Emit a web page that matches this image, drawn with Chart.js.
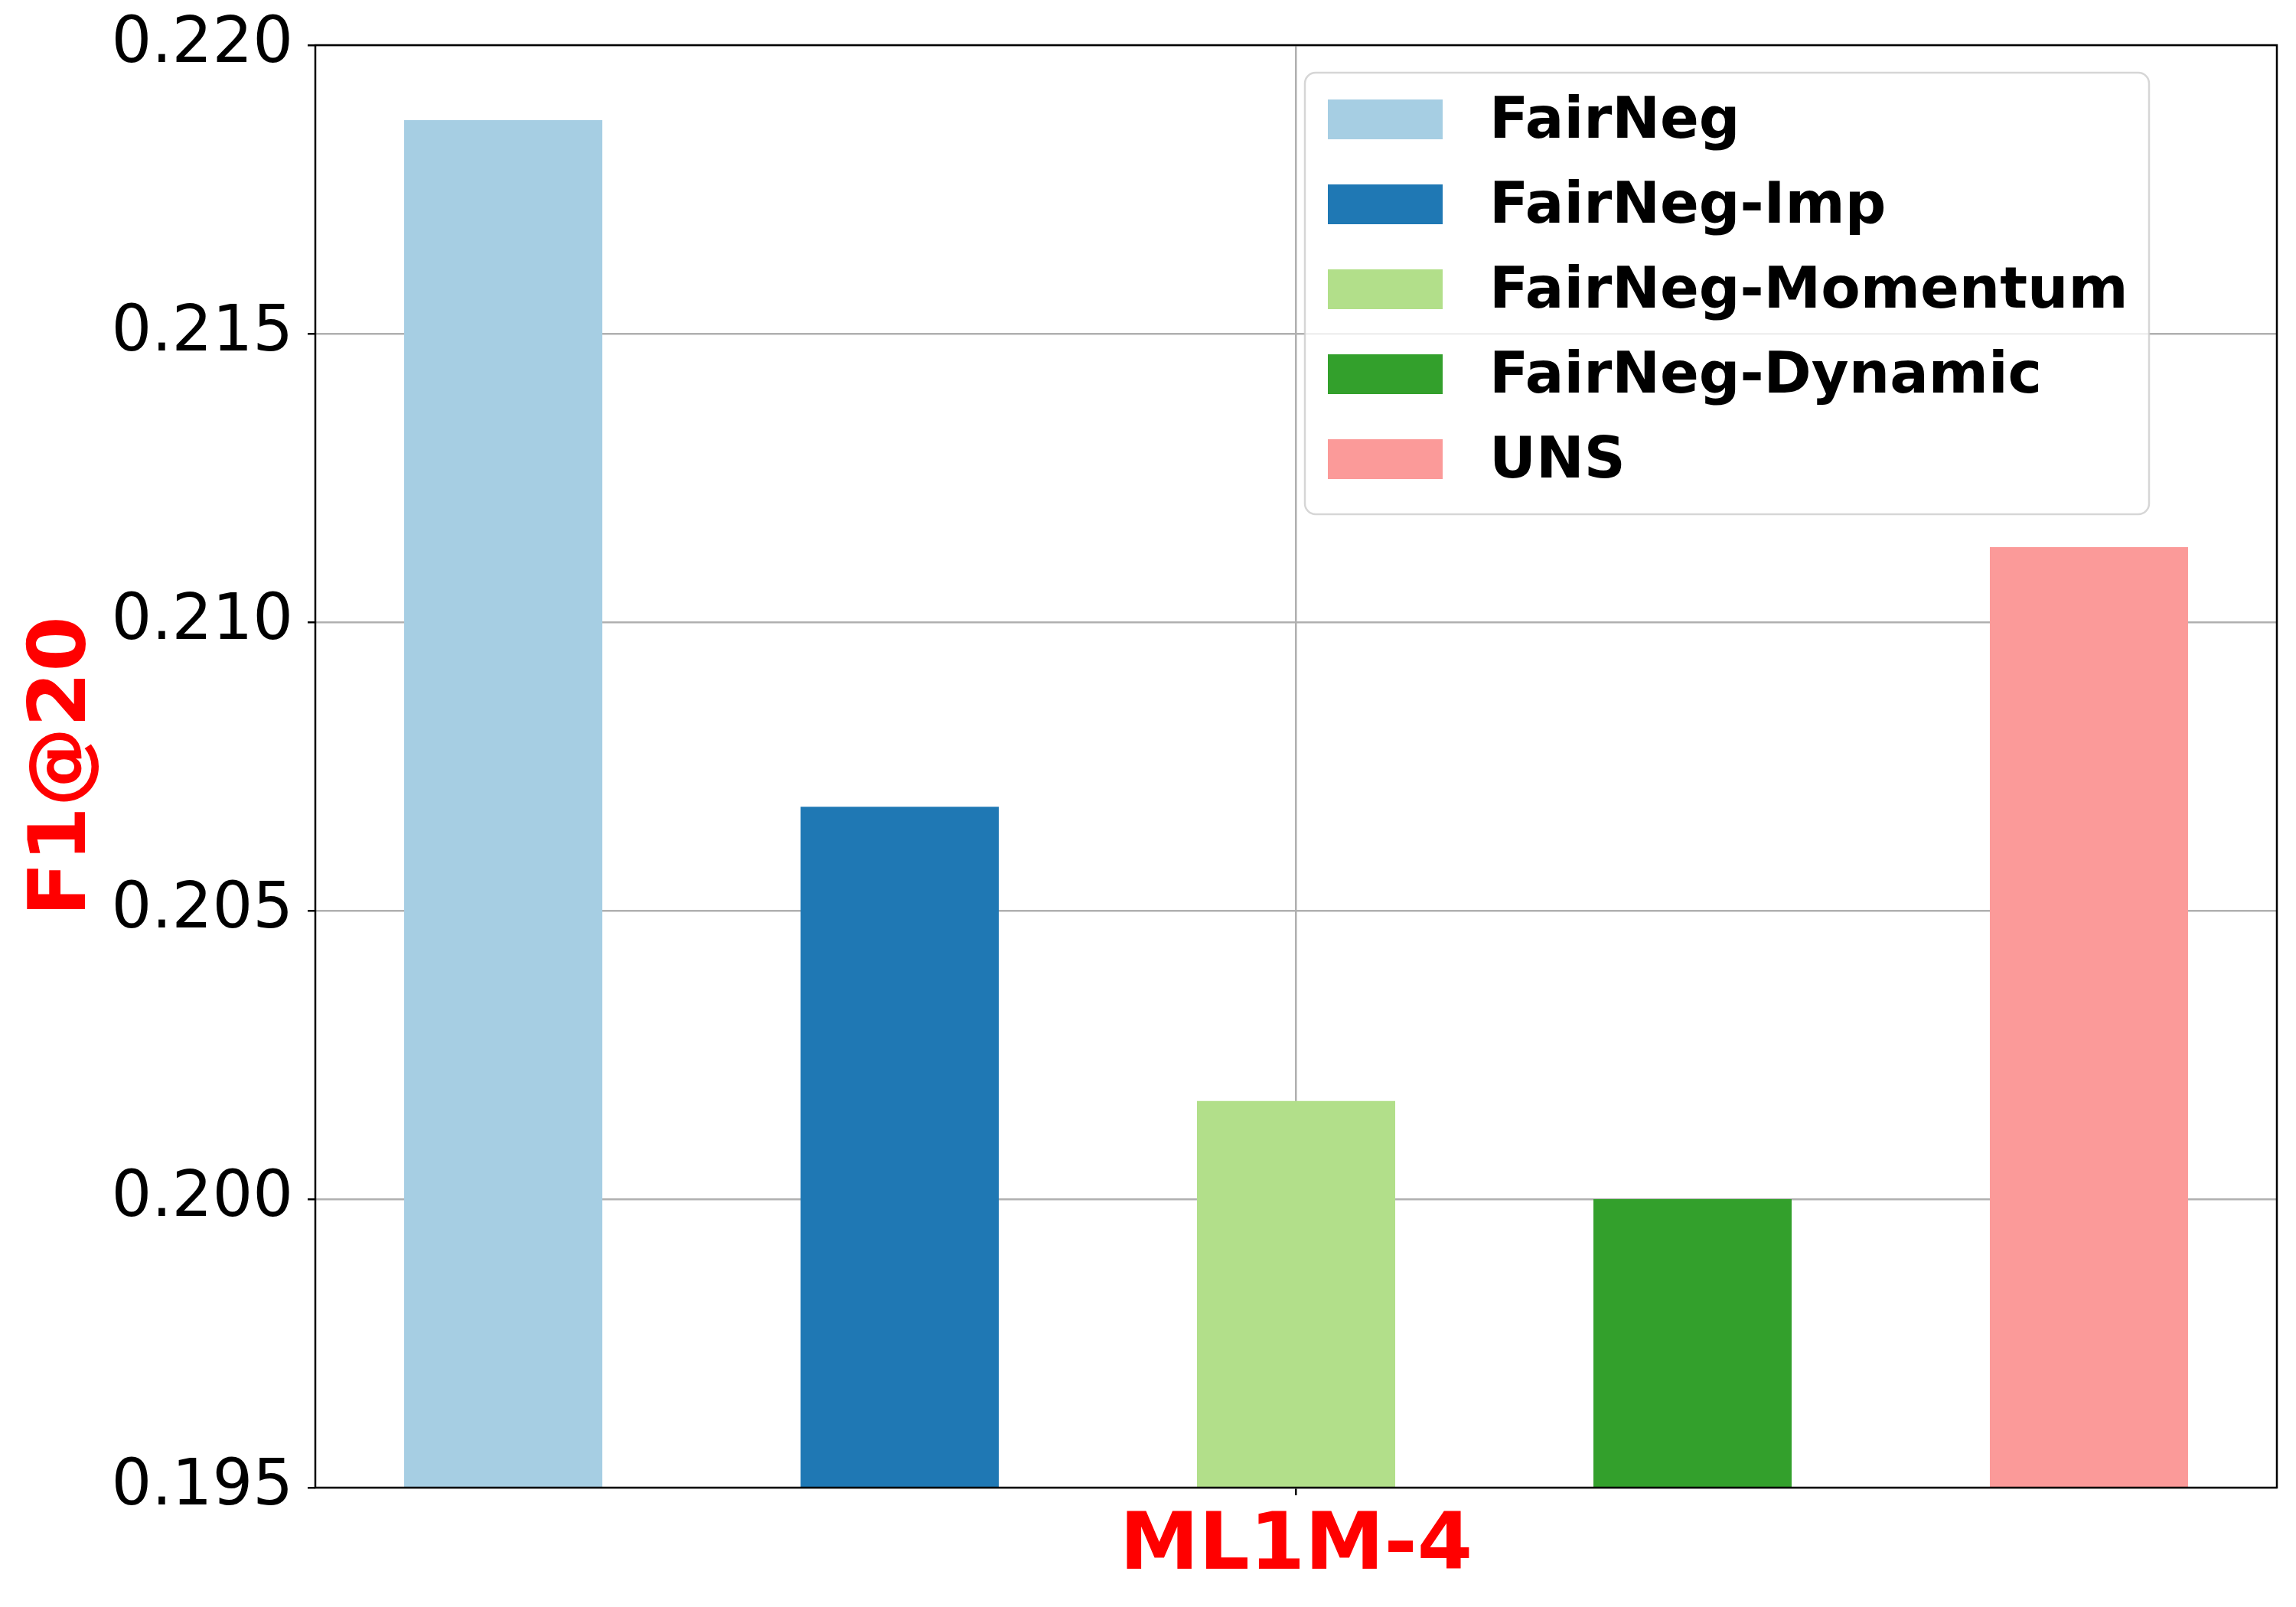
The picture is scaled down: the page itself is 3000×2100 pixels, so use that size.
<!DOCTYPE html>
<html>
<head>
<meta charset="utf-8">
<script src="https://cdn.jsdelivr.net/npm/chart.js@4.4.1/dist/chart.umd.min.js"></script>
<style>
  html, body { margin: 0; padding: 0; background: #fff; }
  canvas { display: block; }
</style>
</head>
<body>
<canvas id="f1-bar" width="3000" height="2100"></canvas>
<script>
const categories = ['ML1M-4'];
const methods = ['FairNeg', 'FairNeg-Imp', 'FairNeg-Momentum', 'FairNeg-Dynamic', 'UNS'];
const f1Values = [0.2187, 0.2068, 0.2017, 0.2000, 0.2113];
const barColors = ['#a6cee3', '#1f78b4', '#b2df8a', '#33a02c', '#fb9a99'];

const FONT = '"DejaVu Sans", sans-serif';

// black frame round the plot area, like matplotlib spines
const frame = {
    id: 'frame',
    afterDraw(chart) {
        const a = chart.chartArea;
        const ctx = chart.ctx;
        ctx.save();
        ctx.strokeStyle = '#000';
        ctx.lineWidth = 2.5;
        ctx.strokeRect(a.left, a.top, a.right - a.left, a.bottom - a.top);
        ctx.restore();
    }
};

// legend box in the upper right of the plot
const boxLegend = {
    id: 'boxLegend',
    afterDraw(chart) {
        const ctx = chart.ctx;
        ctx.save();
        ctx.beginPath();
        ctx.roundRect(1705, 95, 1103, 577, 14);
        ctx.fillStyle = 'rgba(255,255,255,0.8)';
        ctx.fill();
        ctx.lineWidth = 2.5;
        ctx.strokeStyle = 'rgba(204,204,204,0.8)';
        ctx.stroke();
        ctx.font = 'bold 75px ' + FONT;
        ctx.textBaseline = 'middle';
        chart.data.datasets.forEach((ds, i) => {
            const cy = 156 + i * 111;
            ctx.fillStyle = ds.backgroundColor;
            ctx.fillRect(1735, cy - 26, 150, 52);
            ctx.fillStyle = '#000';
            ctx.fillText(ds.label, 1946, cy + 5);
        });
        ctx.restore();
    }
};

const datasets = methods.map((m, i) => ({
    label: m,
    data: [f1Values[i]],
    backgroundColor: barColors[i],
    borderWidth: 0,
    categoryPercentage: 1.0105,
    barPercentage: 0.5
}));

const ctx = document.getElementById('f1-bar');
const myChart = new Chart(ctx, {
    type: 'bar',
    data: { labels: categories, datasets: datasets },
    options: {
        responsive: false,
        animation: false,
        devicePixelRatio: 1,
        layout: { padding: { left: 0, top: 59, right: 25, bottom: 0 } },
        plugins: {
            legend: { display: false },
            tooltip: { enabled: false }
        },
        scales: {
            x: {
                z: 1,
                border: { display: false },
                grid: {
                    offset: false,
                    color: '#b0b0b0',
                    lineWidth: 2.5,
                    tickColor: '#000',
                    tickWidth: 2.5,
                    tickLength: 10
                },
                ticks: {
                    color: '#ff0000',
                    font: { family: FONT, size: 104, weight: 'bold' },
                    padding: 7
                },
                afterFit: (s) => { s.height = 156; }
            },
            y: {
                z: 1,
                min: 0.195,
                max: 0.220,
                border: { display: false },
                grid: {
                    color: '#b0b0b0',
                    lineWidth: 2.5,
                    tickColor: '#000',
                    tickWidth: 2.5,
                    tickLength: 10
                },
                ticks: {
                    stepSize: 0.005,
                    color: '#000',
                    font: { family: FONT, size: 83 },
                    padding: 19,
                    callback: (v) => v.toFixed(3)
                },
                title: {
                    display: true,
                    text: 'F1@20',
                    color: '#ff0000',
                    font: { family: FONT, size: 104, weight: 'bold' },
                    padding: { top: 22, bottom: 0 }
                },
                afterFit: (s) => {
                    s.width = 412;
                    s.paddingTop = 0;
                    s.paddingBottom = 0;
                }
            }
        }
    },
    plugins: [frame, boxLegend]
});
</script>
</body>
</html>
